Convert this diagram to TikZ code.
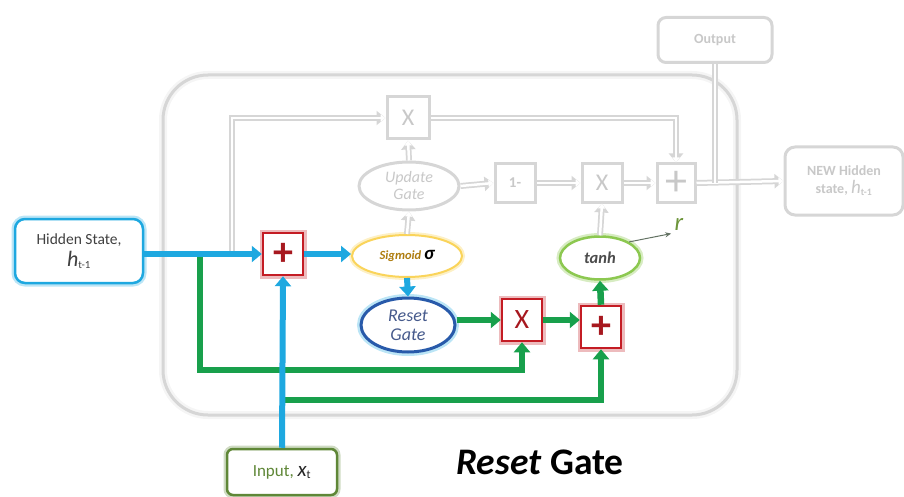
\documentclass[tikz,border=0pt]{standalone}
\usepackage{fontspec}
\setmainfont{Carlito}
\usetikzlibrary{arrows.meta,shapes.geometric}
\definecolor{cblue}{RGB}{30,168,224}
\definecolor{cgreen}{RGB}{24,160,76}
\definecolor{cred}{RGB}{196,28,36}
\definecolor{gline}{RGB}{214,214,214}
\definecolor{gtext}{RGB}{200,200,200}
\definecolor{dblue}{RGB}{40,90,170}
\definecolor{ylw}{RGB}{250,212,90}
\definecolor{lgreen}{RGB}{140,200,80}
\definecolor{igreen}{RGB}{95,135,55}
\tikzset{
  redbox/.style={draw=cred, line width=2.5pt, fill=white, minimum width=40pt, minimum height=42pt, inner sep=0pt,
    preaction={draw=cred!30, line width=7pt}, text=cred!85!black, font=\bfseries\fontsize{40}{40}\selectfont},
  graybox/.style={draw=gline, line width=3pt, fill=white, text=gtext, inner sep=1pt},
  barrow/.style={draw=cblue, line width=6pt, -{Triangle[length=10pt,width=16pt]}},
  garrow/.style={draw=cgreen, line width=6.5pt, -{Triangle[length=10pt,width=16pt]}},
  grayarrow/.style={preaction={draw=gline, line width=6pt, -{Triangle[length=9pt,width=14pt]}},
    draw=white, line width=2.5pt, -{Triangle[length=5pt,width=7pt]}},
  grayline/.style={preaction={draw=gline, line width=6pt}, draw=white, line width=2.5pt},
}
\begin{document}
\begin{tikzpicture}[x=1pt,y=-1pt]
\useasboundingbox (0,0) rectangle (904,497);
% big frame
\draw[gline, line width=3pt, rounded corners=45pt, preaction={draw=gray!8, line width=8pt}] (163,75) rectangle (737,415);

% gray nodes
\node[graybox, minimum width=42pt, minimum height=42pt, font=\fontsize{24}{24}\selectfont] (gx) at (408,118) {X};
\node[graybox, ellipse, minimum width=100pt, minimum height=48pt, inner sep=0pt, font=\itshape\fontsize{16}{17}\selectfont, align=center] (upd) at (409,186) {Update\\Gate};
\node[graybox, minimum width=40pt, minimum height=38pt, font=\bfseries\fontsize{15}{15}\selectfont] (one) at (515,183) {1-};
\node[graybox, minimum width=40pt, minimum height=38pt, font=\fontsize{24}{24}\selectfont] (gx2) at (602,183) {X};
\node[graybox, minimum width=38pt, minimum height=38pt, inner sep=0pt, font=\fontsize{44}{44}\selectfont] (gplus) at (676,183) {+};
\node[graybox, rounded corners=8pt, minimum width=114pt, minimum height=45pt, font=\bfseries\fontsize{14}{14}\selectfont] (out) at (715,40) {Output};
\node[graybox, rounded corners=10pt, minimum width=118pt, minimum height=68pt, font=\bfseries\fontsize{14}{18}\selectfont, align=center] (newh) at (844,181) {NEW Hidden\\state, {\mdseries\itshape\fontsize{19}{19}\selectfont h}\textsubscript{t-1}};

% colored nodes
\node[draw=cblue, line width=2.5pt, rounded corners=10pt, fill=white, preaction={draw=cblue!30, line width=7pt, rounded corners=10pt},
  minimum width=128pt, minimum height=64pt, align=center, text=black!75, font=\fontsize{15.5}{22}\selectfont] (hid) at (79,251)
  {Hidden State,\\{\itshape\fontsize{22}{22}\selectfont h}\textsubscript{t-1}};
\node[redbox] (plus1) at (283,254) {+};
\node[ellipse, draw=ylw, line width=2pt, fill=white, preaction={draw=ylw!35, line width=6pt}, minimum width=110pt, minimum height=42pt, inner sep=0pt,
  font=\bfseries\itshape\fontsize{12.5}{12.5}\selectfont] (sig) at (407,256)
  {\textcolor[RGB]{175,125,15}{Sigmoid} {\fontsize{19}{19}\selectfont σ}};
\node[ellipse, draw=dblue, line width=3pt, fill=white, preaction={draw=cblue!30, line width=8pt}, minimum width=94pt, minimum height=54pt, inner sep=0pt,
  align=center, text={rgb,255:red,70;green,90;blue,140}, font=\itshape\fontsize{18}{19}\selectfont] (reset) at (408,325) {Reset\\Gate};
\node[redbox, font=\fontsize{28}{28}\selectfont] (xbox) at (522,320) {X};
\node[redbox] (plus2) at (601,327) {+};
\node[ellipse, draw=lgreen, line width=2.5pt, fill=white, preaction={draw=lgreen!35, line width=7pt}, minimum width=80pt, minimum height=43pt, inner sep=0pt,
  text=black!70, font=\bfseries\itshape\fontsize{16.5}{16.5}\selectfont] (tanh) at (600,258) {tanh};
\node[draw=igreen, line width=2.5pt, rounded corners=6pt, fill=white, preaction={draw=igreen!30, line width=7pt, rounded corners=6pt},
  minimum width=110pt, minimum height=46pt, text=igreen, font=\fontsize{17}{17}\selectfont] (inp) at (282,472)
  {Input, \textcolor{black!85}{\itshape\fontsize{21}{21}\selectfont x}\textsubscript{\textcolor{black!85}{t}}};
\node[font=\bfseries\fontsize{37.5}{37.5}\selectfont] (title) at (540,462) {\textit{Reset} Gate};
\node[text={rgb,255:red,110;green,150;blue,60}, font=\itshape\fontsize{25}{25}\selectfont] (r) at (679,224) {r};

% coordinates
\coordinate (j1) at (200,254);
\coordinate (c1) at (200,370);
\coordinate (j2) at (283,400);
\coordinate (g1) at (232,254);
\coordinate (g2) at (715,183);

% gray connectors
\draw[grayarrow] (g1) |- (gx.west);
\draw[grayarrow] (gx.east) -| (gplus.north);
\draw[grayarrow] (sig.north) -- (upd.south);
\draw[grayarrow] (upd.north) -- (gx.south);
\draw[grayarrow] (upd.east) -- (one.west);
\draw[grayarrow] (one.east) -- (gx2.west);
\draw[grayarrow] (gx2.east) -- (gplus.west);
\draw[grayarrow] (tanh.north) -- (gx2.south);
\draw[grayarrow] (gplus.east) -- (newh.west);
\draw[grayline] (g2) -- (out.south);
\draw[draw={rgb,255:red,100;green,115;blue,100}, line width=1pt, -{Stealth[length=6pt,width=5pt]}] (tanh.north east) -- (r.south west);

% green connectors
\draw[garrow] (j1) -- (c1) -| (xbox.south);
\draw[garrow] (j2) -| (plus2.south);
\draw[garrow] (reset.east |- xbox.west) -- (xbox.west);
\draw[garrow] (xbox.east) -- (xbox.east -| plus2.west);
\draw[garrow] (plus2.north) -- (tanh.south);

% blue connectors
\draw[barrow] (hid.east |- plus1.west) -- (plus1.west);
\draw[barrow] (plus1.east) -- (plus1.east -| sig.west);
\draw[barrow] (sig.south) -- (reset.north);
\draw[barrow] (inp.north) -- (plus1.south);
\end{tikzpicture}
\end{document}
